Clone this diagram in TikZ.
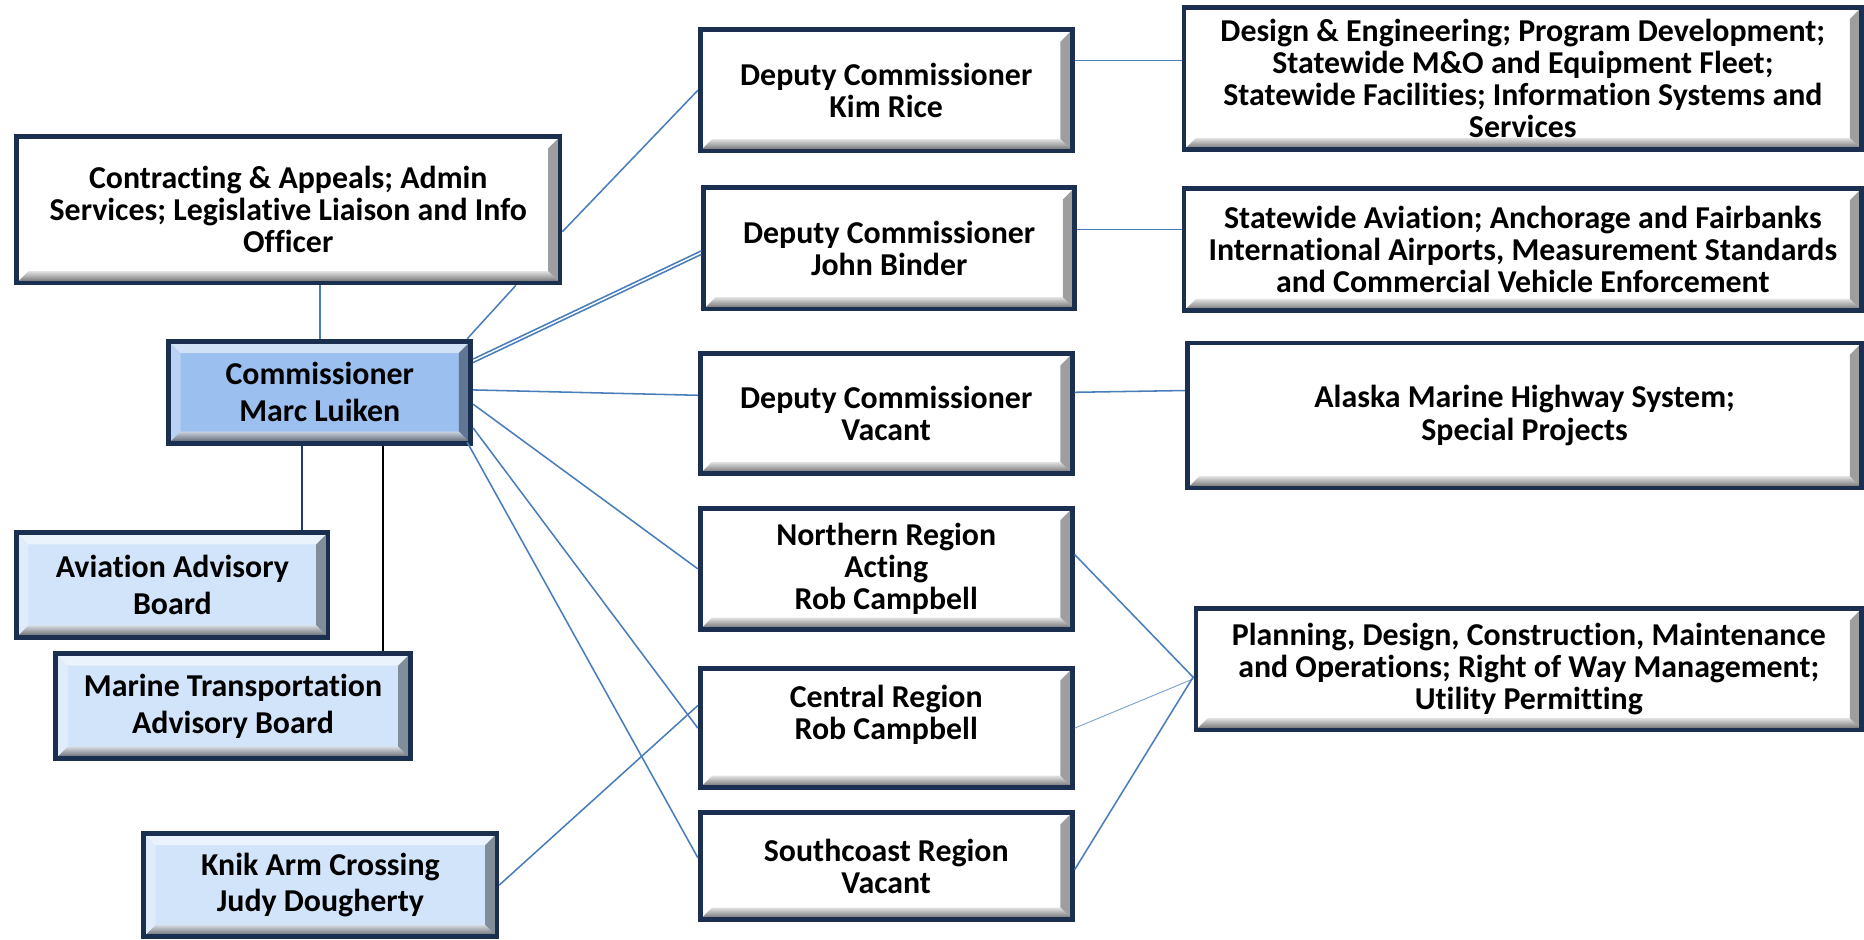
\documentclass[tikz,border=0pt]{standalone}
\usepackage{fontspec}
\setmainfont{Carlito}[Ligatures=NoCommon]
\usetikzlibrary{calc}
\definecolor{bnavy}{HTML}{1B3050}
\definecolor{lnblue}{HTML}{4A7EBB}
\definecolor{commblue}{HTML}{9BBFEF}
\definecolor{advblue}{HTML}{D2E4FA}
\definecolor{lnnavy}{HTML}{1F3A78}
\newcommand\bvsz{10pt}
\tikzset{
  bevel/.style={path picture={
    \coordinate (pnw) at (path picture bounding box.north west);
    \coordinate (pne) at (path picture bounding box.north east);
    \coordinate (psw) at (path picture bounding box.south west);
    \coordinate (pse) at (path picture bounding box.south east);
    \fill[white,opacity=.55] (pnw) -- (pne) -- ([shift={(-\bvsz,-\bvsz)}]pne) -- ([shift={(\bvsz,-\bvsz)}]pnw) -- cycle;
    \fill[white,opacity=.3] (pnw) -- ([shift={(\bvsz,-\bvsz)}]pnw) -- ([shift={(\bvsz,\bvsz)}]psw) -- (psw) -- cycle;
    \fill[black,opacity=.38] (pne) -- (pse) -- ([shift={(-\bvsz,\bvsz)}]pse) -- ([shift={(-\bvsz,-\bvsz)}]pne) -- cycle;
    \shade[top color=black!15,bottom color=black!80,opacity=.75] (psw) -- ([shift={(\bvsz,\bvsz)}]psw) -- ([shift={(-\bvsz,\bvsz)}]pse) -- (pse) -- cycle;
  }},
  box/.style={draw=bnavy, line width=4pt, inner sep=0pt, align=center, fill=white,
    font=\fontsize{26.8}{27}\selectfont\bfseries, bevel},
  bluebox/.style={box, font=\fontsize{26.8}{31}\selectfont\bfseries},
  conn/.style={draw=lnblue, line width=1.3pt},
}
\begin{document}
\begin{tikzpicture}[x=1pt,y=-1pt]
\useasboundingbox (0,0) rectangle (1568,790);
% left column
\node[box, minimum width=457pt, minimum height=123pt] (contr) at (242.5,176.5)
  {Contracting \& Appeals; Admin\\Services; Legislative Liaison and Info\\Officer};
\node[bluebox, fill=commblue, minimum width=254pt, minimum height=86pt] (comm) at (269,330)
  {Commissioner\\Marc Luiken};
\node[bluebox, fill=advblue, minimum width=262pt, minimum height=88pt] (avi) at (145,492)
  {Aviation Advisory\\Board};
\node[bluebox, fill=advblue, minimum width=298pt, minimum height=88pt] (marine) at (196,594)
  {Marine Transportation\\Advisory Board};
\node[bluebox, fill=advblue, minimum width=297pt, minimum height=87pt] (knik) at (269.5,744.5)
  {Knik Arm Crossing\\Judy Dougherty};
% middle column
\node[box, minimum width=313pt, minimum height=102pt] (kim) at (745.5,76)
  {Deputy Commissioner\\Kim Rice};
\node[box, minimum width=312pt, minimum height=102pt] (binder) at (748,209)
  {Deputy Commissioner\\John Binder};
\node[box, minimum width=313pt, minimum height=101pt] (dcv) at (745.5,348)
  {Deputy Commissioner\\Vacant};
\node[box, minimum width=313pt, minimum height=102pt] (north) at (745.5,478.5)
  {Northern Region\\Acting\\Rob Campbell};
\node[box, minimum width=313pt, minimum height=100pt] (central) at (745.5,612.5)
  {Central Region\\Rob Campbell\\\mbox{}};
\node[box, minimum width=313pt, minimum height=90pt] (south) at (745.5,728.5)
  {Southcoast Region\\Vacant};
% right column
\node[box, minimum width=570pt, minimum height=120pt] (design) at (1281,66)
  {Design \& Engineering; Program Development;\\Statewide M\&O and Equipment Fleet;\\Statewide Facilities; Information Systems and\\Services};
\node[box, minimum width=570pt, minimum height=103pt] (aviation) at (1281,210)
  {Statewide Aviation; Anchorage and Fairbanks\\International Airports, Measurement Standards\\and Commercial Vehicle Enforcement};
\node[box, minimum width=567pt, minimum height=122pt] (alaska) at (1282.5,349.5)
  {Alaska Marine Highway System;\\Special Projects};
\node[box, minimum width=560pt, minimum height=102pt] (planning) at (1286,563)
  {Planning, Design, Construction, Maintenance\\and Operations; Right of Way Management;\\Utility Permitting};
% connectors
\draw[conn] ([yshift=-18.5pt]contr.east) -- (kim.west);
\draw[conn] ([xshift=-5pt]comm.north east) -- ([xshift=-39pt]contr.south east);
\draw[conn] (comm.north) -- (comm.north |- contr.south);
\draw[conn] ([yshift=28pt]comm.east) -- ([yshift=-2pt]binder.west);
\draw[conn] ([yshift=25pt]comm.east) -- ([yshift=-5pt]binder.west);
\draw[conn] ([yshift=2pt]comm.east) -- ([yshift=15.5pt]dcv.west);
\draw[conn] ([yshift=-10pt]comm.east) -- (north.west);
\draw[conn] ([yshift=-30pt]comm.east) -- (central.west);
\draw[conn] ([xshift=-5pt,yshift=3pt]comm.south east) -- ([yshift=7pt]south.west);
\draw[conn] (knik.east) -- ([yshift=19pt]central.west);
\draw[conn] ([yshift=25pt]kim.east) -- ([yshift=25pt]kim.east -| design.west);
\draw[conn] ([yshift=16pt]binder.east) -- ([yshift=16pt]binder.east -| aviation.west);
\draw[conn] ([yshift=18pt]dcv.east) -- ([yshift=21pt]alaska.west);
\draw[conn] ([yshift=12pt]north.east) -- ([yshift=-7pt]planning.west);
\draw[conn, line width=0.8pt, draw=lnblue!70] (central.east) -- ([yshift=-8pt]planning.west);
\draw[conn] ([yshift=-3pt]south.east) -- ([yshift=-6pt]planning.west);
\draw[draw=lnnavy, line width=1.3pt] ([xshift=-15pt]comm.south) -- ([xshift=-15pt]comm.south |- avi.north);
\draw[draw=black, line width=1.3pt] ([xshift=53pt]comm.south) -- ([xshift=53pt]comm.south |- marine.north);
\end{tikzpicture}
\end{document}
